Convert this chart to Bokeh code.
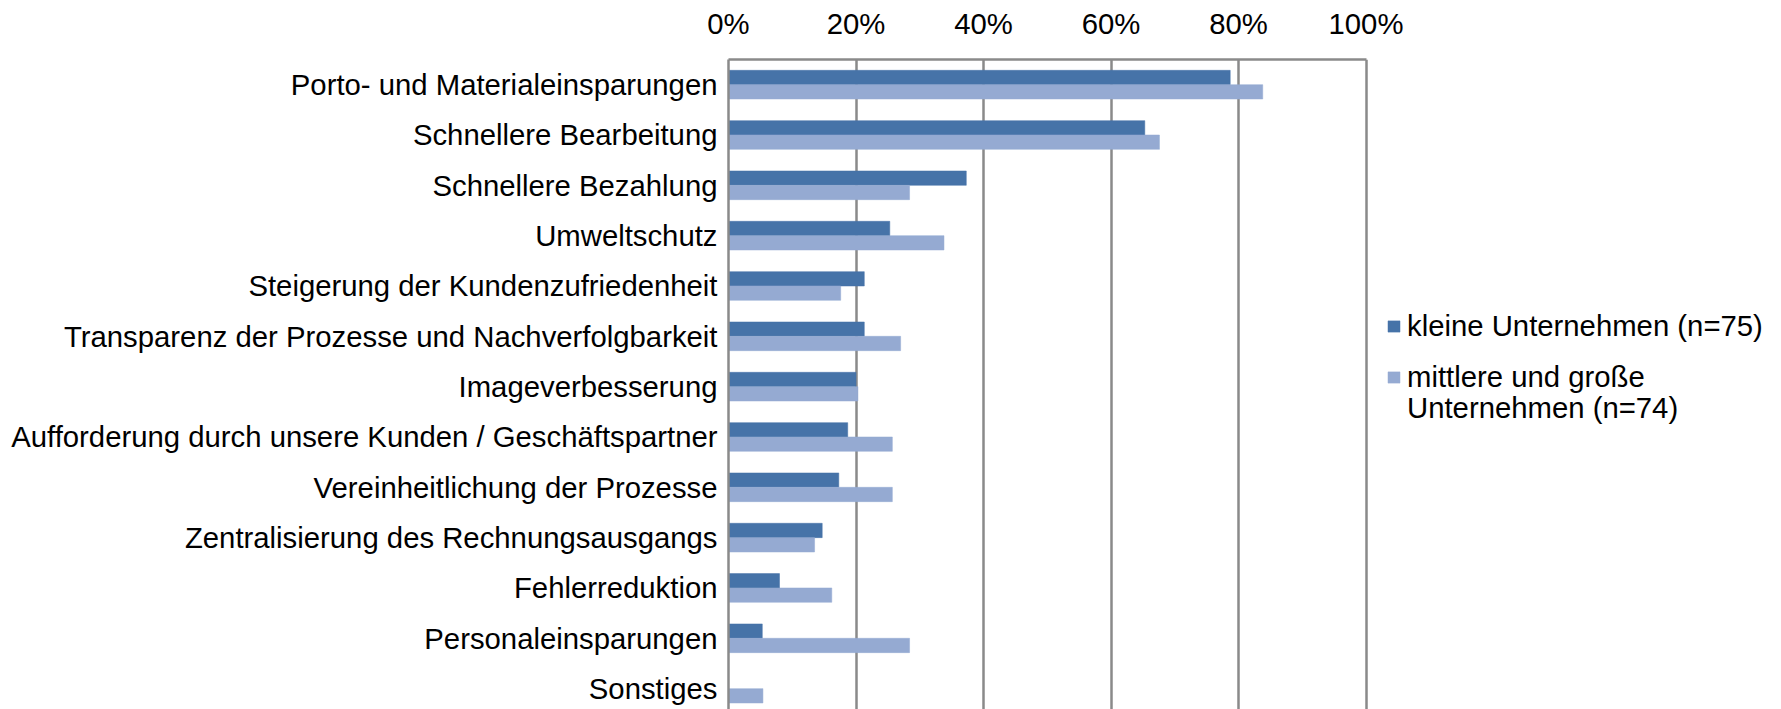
from bokeh.plotting import figure
from bokeh.models import (Range1d, FixedTicker, PrintfTickFormatter, Legend,
                          LegendItem, ColumnDataSource)
from bokeh.transform import dodge
from bokeh.embed import file_html
from bokeh.resources import INLINE

categories = [
    "Porto- und Materialeinsparungen",
    "Schnellere Bearbeitung",
    "Schnellere Bezahlung",
    "Umweltschutz",
    "Steigerung der Kundenzufriedenheit",
    "Transparenz der Prozesse und Nachverfolgbarkeit",
    "Imageverbesserung",
    "Aufforderung durch unsere Kunden / Geschäftspartner",
    "Vereinheitlichung der Prozesse",
    "Zentralisierung des Rechnungsausgangs",
    "Fehlerreduktion",
    "Personaleinsparungen",
    "Sonstiges",
]
kleine = [78.7, 65.3, 37.3, 25.3, 21.3, 21.3, 20.0, 18.7, 17.3, 14.7, 8.0, 5.3, 0.0]
mittlere = [83.8, 67.6, 28.4, 33.8, 17.6, 27.0, 20.3, 25.7, 25.7, 13.5, 16.2, 28.4, 5.4]
x_ticks = [0, 20, 40, 60, 80, 100]
series_labels = ["kleine Unternehmen (n=75)", "mittlere und große", "Unternehmen (n=74)"]

DARK = "#4673A8"
LIGHT = "#95AAD2"
GRID = "#8A8A8A"
FONT = "Liberation Sans"
FS = "29.3px"

pos = list(range(len(categories)))
src = ColumnDataSource(dict(pos=pos, cat=categories, kleine=kleine, mittlere=mittlere))

W, H = 1775, 709
FL, FT = 728, 59
PW = 637.5                    # pixel width of the 0..100 % span
FW = W - FL                   # frame extends to the right edge (legend area)
FH = H - FT
band = 50.33

p = figure(width=W, height=H, output_backend="svg", toolbar_location=None,
           x_range=Range1d(0, 100 * FW / PW),
           y_range=Range1d(-0.5 + FH / band, -0.5),
           x_axis_location="above",
           min_border_left=FL, min_border_right=0,
           min_border_top=FT, min_border_bottom=0)
p.outline_line_color = None
p.background_fill_color = "white"
p.border_fill_color = "white"

bh = 0.285
r1 = p.hbar(y=dodge("pos", -bh / 2), right="kleine", left=0, height=bh, source=src,
            fill_color=DARK, line_color=DARK, line_width=0.5)
r2 = p.hbar(y=dodge("pos", bh / 2), right="mittlere", left=0, height=bh, source=src,
            fill_color=LIGHT, line_color=LIGHT, line_width=0.5)
# invisible renderer used only for the second line of the legend label
r3 = p.hbar(y=[], right=[], left=0, height=bh, fill_alpha=0, line_alpha=0)

# x axis (top)
xa = p.xaxis[0]
xa.ticker = FixedTicker(ticks=x_ticks)
xa.formatter = PrintfTickFormatter(format="%d%%")
xa.bounds = (x_ticks[0], x_ticks[-1])
xa.major_tick_in = 0
xa.major_tick_out = 0
xa.minor_tick_in = 0
xa.minor_tick_out = 0
xa.axis_line_color = GRID
xa.axis_line_width = 2.5
xa.major_label_standoff = 20
xa.major_label_text_font = FONT
xa.major_label_text_font_size = FS
xa.major_label_text_color = "black"

# y axis (left)
ya = p.yaxis[0]
ya.ticker = FixedTicker(ticks=pos)
ya.major_label_overrides = {i: c for i, c in zip(pos, categories)}
ya.major_tick_in = 0
ya.major_tick_out = 0
ya.minor_tick_in = 0
ya.minor_tick_out = 0
ya.axis_line_color = GRID
ya.axis_line_width = 2.5
ya.major_label_standoff = 11
ya.major_label_text_font = FONT
ya.major_label_text_font_size = FS
ya.major_label_text_color = "black"

p.xgrid.ticker = FixedTicker(ticks=x_ticks)
p.xgrid.grid_line_color = GRID
p.xgrid.grid_line_width = 2.5
p.ygrid.grid_line_color = None


def style(leg):
    leg.border_line_color = None
    leg.background_fill_alpha = 0
    leg.padding = 0
    leg.margin = 0
    leg.glyph_width = 15
    leg.glyph_height = 14
    leg.label_standoff = 6
    leg.label_height = 34
    leg.label_text_font = FONT
    leg.label_text_font_size = FS
    leg.label_text_color = "black"


LX = 658
legA = Legend(items=[LegendItem(label=series_labels[0], renderers=[r1]),
                     LegendItem(label=series_labels[1], renderers=[r2])],
              location=(LX, 315.5))
style(legA)
legA.spacing = 17
legB = Legend(items=[LegendItem(label=series_labels[2], renderers=[r3])],
              location=(LX, 284))
style(legB)
p.add_layout(legA, "center")
p.add_layout(legB, "center")

open("out.html", "w").write(file_html(p, INLINE))
